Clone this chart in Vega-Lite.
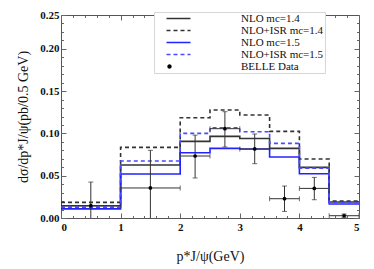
{
  "$schema": "https://vega.github.io/schema/vega-lite/v6.json",
  "width": 298,
  "height": 203,
  "autosize": "none",
  "padding": {"left": 61, "top": 15, "right": 15, "bottom": 51},
  "background": "white",
  "config": {
    "view": {"stroke": "#555555", "strokeWidth": 1},
    "font": "Liberation Serif",
    "axis": {"domain": false, "grid": false, "tickColor": "#666666", "labelFont": "Liberation Serif", "labelFontWeight": "bold", "labelFontSize": 11, "labelColor": "#111111", "titleFont": "Liberation Serif", "titleFontWeight": "normal", "titleFontSize": 14, "titleColor": "#111111"}
  },
  "datasets": {
    "lines": [
      {"s": "NLO mc=1.4", "x": 0, "y": 0.0145},
      {"s": "NLO mc=1.4", "x": 1, "y": 0.0626},
      {"s": "NLO mc=1.4", "x": 2, "y": 0.0906},
      {"s": "NLO mc=1.4", "x": 2.5, "y": 0.0965},
      {"s": "NLO mc=1.4", "x": 3, "y": 0.094},
      {"s": "NLO mc=1.4", "x": 3.5, "y": 0.0823},
      {"s": "NLO mc=1.4", "x": 4, "y": 0.0598},
      {"s": "NLO mc=1.4", "x": 4.5, "y": 0.019},
      {"s": "NLO mc=1.4", "x": 5, "y": 0.019},
      {"s": "NLO+ISR mc=1.4", "x": 0, "y": 0.0185},
      {"s": "NLO+ISR mc=1.4", "x": 1, "y": 0.0835},
      {"s": "NLO+ISR mc=1.4", "x": 2, "y": 0.1186},
      {"s": "NLO+ISR mc=1.4", "x": 2.5, "y": 0.1277},
      {"s": "NLO+ISR mc=1.4", "x": 3, "y": 0.1217},
      {"s": "NLO+ISR mc=1.4", "x": 3.5, "y": 0.1024},
      {"s": "NLO+ISR mc=1.4", "x": 4, "y": 0.0697},
      {"s": "NLO+ISR mc=1.4", "x": 4.5, "y": 0.0201},
      {"s": "NLO+ISR mc=1.4", "x": 5, "y": 0.0201},
      {"s": "NLO mc=1.5", "x": 0, "y": 0.0108},
      {"s": "NLO mc=1.5", "x": 1, "y": 0.052},
      {"s": "NLO mc=1.5", "x": 2, "y": 0.0772},
      {"s": "NLO mc=1.5", "x": 2.5, "y": 0.0823},
      {"s": "NLO mc=1.5", "x": 3, "y": 0.0816},
      {"s": "NLO mc=1.5", "x": 3.5, "y": 0.0721},
      {"s": "NLO mc=1.5", "x": 4, "y": 0.0524},
      {"s": "NLO mc=1.5", "x": 4.5, "y": 0.0165},
      {"s": "NLO mc=1.5", "x": 5, "y": 0.0165},
      {"s": "NLO+ISR mc=1.5", "x": 0, "y": 0.0128},
      {"s": "NLO+ISR mc=1.5", "x": 1, "y": 0.0674},
      {"s": "NLO+ISR mc=1.5", "x": 2, "y": 0.1},
      {"s": "NLO+ISR mc=1.5", "x": 2.5, "y": 0.1067},
      {"s": "NLO+ISR mc=1.5", "x": 3, "y": 0.102},
      {"s": "NLO+ISR mc=1.5", "x": 3.5, "y": 0.0882},
      {"s": "NLO+ISR mc=1.5", "x": 4, "y": 0.059},
      {"s": "NLO+ISR mc=1.5", "x": 4.5, "y": 0.018},
      {"s": "NLO+ISR mc=1.5", "x": 5, "y": 0.018}
    ],
    "belle": [
      {"x": 0.5, "y": 0.0145, "xlo": 0, "xhi": 1, "ylo": -0.014, "yhi": 0.0425},
      {"x": 1.5, "y": 0.0355, "xlo": 1, "xhi": 2, "ylo": -0.009, "yhi": 0.08},
      {"x": 2.25, "y": 0.0733, "xlo": 2, "xhi": 2.5, "ylo": 0.0473, "yhi": 0.098},
      {"x": 2.75, "y": 0.1056, "xlo": 2.5, "xhi": 3, "ylo": 0.084, "yhi": 0.1257},
      {"x": 3.25, "y": 0.0816, "xlo": 3, "xhi": 3.5, "ylo": 0.0642, "yhi": 0.0993},
      {"x": 3.75, "y": 0.0228, "xlo": 3.5, "xhi": 4, "ylo": 0.0078, "yhi": 0.0378},
      {"x": 4.25, "y": 0.035, "xlo": 4, "xhi": 4.5, "ylo": 0.0216, "yhi": 0.048},
      {"x": 4.75, "y": 0.0027, "xlo": 4.5, "xhi": 5, "ylo": 0.0007, "yhi": 0.0047}
    ]
  },
  "resolve": {"scale": {"x": "shared", "y": "shared"}, "axis": {"x": "independent", "y": "independent"}},
  "layer": [
    {
      "data": {"name": "lines"},
      "mark": {"type": "line", "interpolate": "step-after", "strokeWidth": 1.6, "clip": true},
      "encoding": {
        "x": {"field": "x", "type": "quantitative", "scale": {"domain": [0, 5], "nice": false},
          "axis": {"orient": "bottom", "values": [0, 1, 2, 3, 4, 5], "tickSize": -5, "labelPadding": 8, "title": "p*J/ψ(GeV)", "titlePadding": 17}},
        "y": {"field": "y", "type": "quantitative", "scale": {"domain": [0, 0.24], "nice": false, "zero": false},
          "axis": {"orient": "left", "values": [0, 0.05, 0.1, 0.15, 0.2, 0.24], "tickSize": -5, "labelPadding": 7, "labelExpr": "datum.value > 0.23 ? '0.25' : format(datum.value, '.2f')", "title": "dσ/dp*J/ψ(pb/0.5 GeV)", "titlePadding": 9}},
        "color": {"field": "s", "type": "nominal",
          "scale": {"domain": ["NLO mc=1.4", "NLO+ISR mc=1.4", "NLO mc=1.5", "NLO+ISR mc=1.5", "BELLE Data"], "range": ["#333333", "#333333", "#2222ff", "#4a4aff", "#000000"]},
          "legend": {"orient": "none", "legendX": 93, "legendY": -3, "title": null, "symbolType": "M-1,0H7", "symbolSize": 36, "symbolOffset": 9, "symbolStrokeWidth": 1.6, "labelOffset": 66, "labelAlign": "left", "labelFont": "Liberation Serif", "labelFontSize": 11, "labelColor": "#111111", "rowPadding": 0, "padding": 1, "fillColor": "white", "strokeColor": "#d6d6d6",
            "encode": {
              "symbols": {"update": {
                "shape": {"signal": "datum.label === 'BELLE Data' ? 'circle' : 'M-1,0H7'"},
                "size": {"signal": "datum.label === 'BELLE Data' ? 8 : 36"},
                "fill": {"signal": "datum.label === 'BELLE Data' ? '#000000' : 'transparent'"},
                "strokeDash": {"signal": "indexof(datum.label, 'ISR') >= 0 ? [4, 3] : [1, 0]"}
              }},
              "labels": {"update": {"align": {"value": "left"}}}
            }}},
        "strokeDash": {"field": "s", "type": "nominal",
          "scale": {"domain": ["NLO mc=1.4", "NLO+ISR mc=1.4", "NLO mc=1.5", "NLO+ISR mc=1.5", "BELLE Data"], "range": [[1, 0], [4, 3], [1, 0], [4, 3], [1, 0]]},
          "legend": null}
      }
    },
    {
      "data": {"name": "belle"},
      "mark": {"type": "rule", "color": "#333333", "strokeWidth": 1, "clip": true},
      "encoding": {
        "x": {"field": "x", "type": "quantitative", "scale": {"domain": [0, 5], "nice": false},
          "axis": {"orient": "top", "values": [0, 1, 2, 3, 4, 5], "tickSize": -5, "labels": false, "title": null}},
        "y": {"field": "ylo", "type": "quantitative", "scale": {"domain": [0, 0.24], "nice": false, "zero": false},
          "axis": {"orient": "right", "values": [0, 0.05, 0.1, 0.15, 0.2], "tickSize": -5, "labels": false, "title": null}},
        "y2": {"field": "yhi"}
      }
    },
    {
      "data": {"name": "belle"},
      "mark": {"type": "rule", "color": "#333333", "strokeWidth": 1, "clip": true},
      "encoding": {
        "x": {"field": "xlo", "type": "quantitative", "scale": {"domain": [0, 5], "nice": false},
          "axis": {"orient": "bottom", "values": [0.2, 0.4, 0.6, 0.8, 1.2, 1.4, 1.6, 1.8, 2.2, 2.4, 2.6, 2.8, 3.2, 3.4, 3.6, 3.8, 4.2, 4.4, 4.6, 4.8], "tickSize": -2.5, "labels": false, "title": null}},
        "x2": {"field": "xhi"},
        "y": {"field": "y", "type": "quantitative", "scale": {"domain": [0, 0.24], "nice": false, "zero": false},
          "axis": {"orient": "left", "values": [0.01, 0.02, 0.03, 0.04, 0.06, 0.07, 0.08, 0.09, 0.11, 0.12, 0.13, 0.14, 0.16, 0.17, 0.18, 0.19, 0.21, 0.22, 0.23], "tickSize": -2.5, "labels": false, "title": null}}
      }
    },
    {
      "data": {"name": "belle"},
      "mark": {"type": "point", "filled": true, "color": "#000000", "size": 14, "opacity": 1},
      "encoding": {
        "x": {"field": "x", "type": "quantitative", "scale": {"domain": [0, 5], "nice": false},
          "axis": {"orient": "top", "values": [0.2, 0.4, 0.6, 0.8, 1.2, 1.4, 1.6, 1.8, 2.2, 2.4, 2.6, 2.8, 3.2, 3.4, 3.6, 3.8, 4.2, 4.4, 4.6, 4.8], "tickSize": -2.5, "labels": false, "title": null}},
        "y": {"field": "y", "type": "quantitative", "scale": {"domain": [0, 0.24], "nice": false, "zero": false},
          "axis": {"orient": "right", "values": [0.01, 0.02, 0.03, 0.04, 0.06, 0.07, 0.08, 0.09, 0.11, 0.12, 0.13, 0.14, 0.16, 0.17, 0.18, 0.19, 0.21, 0.22, 0.23], "tickSize": -2.5, "labels": false, "title": null}}
      }
    },
    {
      "data": {"name": "belle"},
      "mark": {"type": "tick", "orient": "horizontal", "color": "#333333", "size": 5, "thickness": 1, "clip": true},
      "encoding": {
        "x": {"field": "x", "type": "quantitative", "axis": null},
        "y": {"field": "yhi", "type": "quantitative", "axis": null}
      }
    },
    {
      "data": {"name": "belle"},
      "mark": {"type": "tick", "orient": "horizontal", "color": "#333333", "size": 5, "thickness": 1, "clip": true},
      "encoding": {
        "x": {"field": "x", "type": "quantitative", "axis": null},
        "y": {"field": "ylo", "type": "quantitative", "axis": null}
      }
    },
    {
      "data": {"name": "belle"},
      "mark": {"type": "tick", "orient": "vertical", "color": "#333333", "size": 5, "thickness": 1, "clip": true},
      "encoding": {
        "x": {"field": "xlo", "type": "quantitative", "axis": null},
        "y": {"field": "y", "type": "quantitative", "axis": null}
      }
    },
    {
      "data": {"name": "belle"},
      "mark": {"type": "tick", "orient": "vertical", "color": "#333333", "size": 5, "thickness": 1, "clip": true},
      "encoding": {
        "x": {"field": "xhi", "type": "quantitative", "axis": null},
        "y": {"field": "y", "type": "quantitative", "axis": null}
      }
    }
  ]
}
